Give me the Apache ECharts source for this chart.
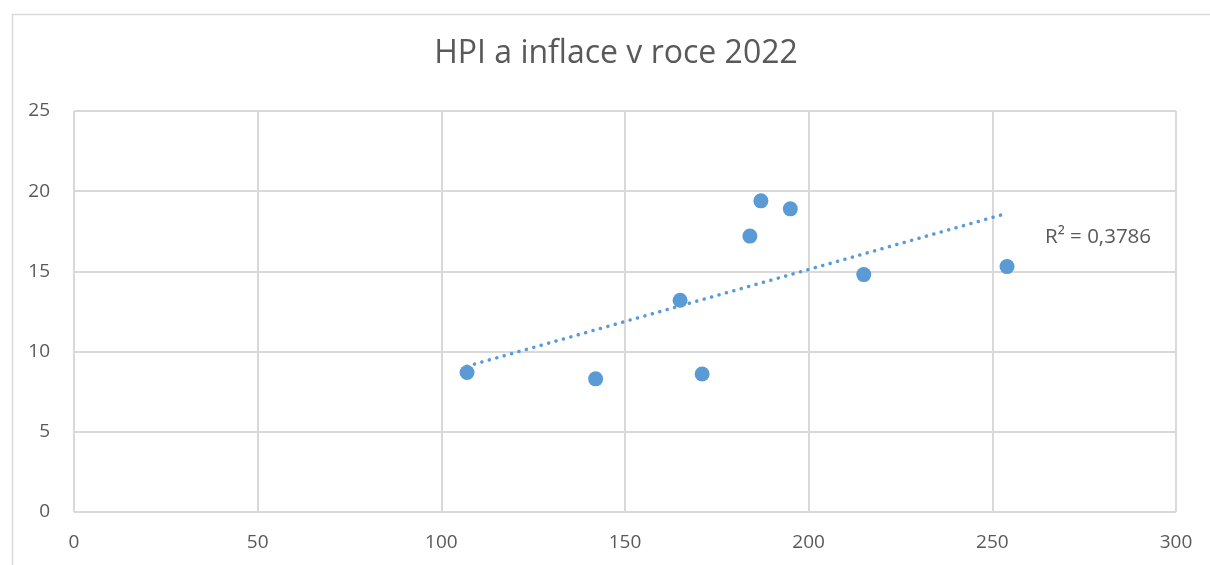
<!DOCTYPE html>
<html>
<head>
<meta charset="utf-8">
<script src="https://cdn.jsdelivr.net/npm/echarts@6/dist/echarts.min.js"></script>
<style>
  html, body { margin: 0; padding: 0; background: #fff; }
  #main { width: 1210px; height: 565px; }
</style>
</head>
<body>
<div id="main"></div>
<script>
// HPI (x) vs inflation (y), 2022
var hpi = [107, 142, 171, 165, 184, 187, 195, 215, 254];
var inflation = [8.7, 8.3, 8.6, 13.2, 17.2, 19.4, 18.9, 14.8, 15.3];
var titleText = 'HPI a inflace v roce 2022';
var r2Text = 'R² = 0,3786';

var points = hpi.map(function (x, i) { return [x, inflation[i]]; });

// least squares trend line
var n = hpi.length, sx = 0, sy = 0, sxx = 0, sxy = 0;
for (var i = 0; i < n; i++) {
  sx += hpi[i]; sy += inflation[i];
  sxx += hpi[i] * hpi[i]; sxy += hpi[i] * inflation[i];
}
var slope = (n * sxy - sx * sy) / (n * sxx - sx * sx);
var icept = (sy - slope * sx) / n;
var xMin = Math.min.apply(null, hpi), xMax = Math.max.apply(null, hpi);
var trend = [[xMin, icept + slope * xMin], [xMax, icept + slope * xMax]];

var font = '"Open Sans", sans-serif';
var myChart = echarts.init(document.getElementById('main'));

var option = {
  animation: false,
  title: {
    text: titleText,
    left: 611,
    textAlign: 'center',
    top: 33,
    textStyle: { fontFamily: font, fontSize: 32, fontWeight: 'normal', color: '#595959' }
  },
  grid: { left: 74, right: 34, top: 111, bottom: 53 },
  xAxis: {
    type: 'value', min: 0, max: 300, interval: 50,
    axisLine: { show: false },
    axisTick: { show: false },
    axisLabel: { fontFamily: font, fontSize: 19, color: '#595959', margin: 21 },
    splitLine: { lineStyle: { color: '#d9d9d9', width: 2 } }
  },
  yAxis: {
    type: 'value', min: 0, max: 25, interval: 5,
    axisLine: { show: false },
    axisTick: { show: false },
    axisLabel: { fontFamily: font, fontSize: 19, color: '#595959', margin: 24 },
    splitLine: { lineStyle: { color: '#d9d9d9', width: 2 } }
  },
  graphic: [
    {
      type: 'rect', left: 10, top: 12, silent: true, z: -1,
      shape: { width: 1240, height: 600 },
      style: { fill: 'none', stroke: '#d9d9d9', lineWidth: 1.5 }
    },
    {
      type: 'text', left: 1045, top: 227,
      style: { text: r2Text, font: '20.5px ' + font, fill: '#595959' }
    }
  ],
  series: [
    {
      name: 'trend',
      type: 'line',
      data: trend,
      symbol: 'none',
      lineStyle: { color: '#5b9bd5', width: 3.5, type: [0.1, 7.6], cap: 'round' },
      z: 1
    },
    {
      name: 'HPI',
      type: 'scatter',
      data: points,
      symbolSize: 15,
      itemStyle: { color: '#5b9bd5', opacity: 1 },
      z: 2
    }
  ]
};

myChart.setOption(option);
</script>
</body>
</html>
